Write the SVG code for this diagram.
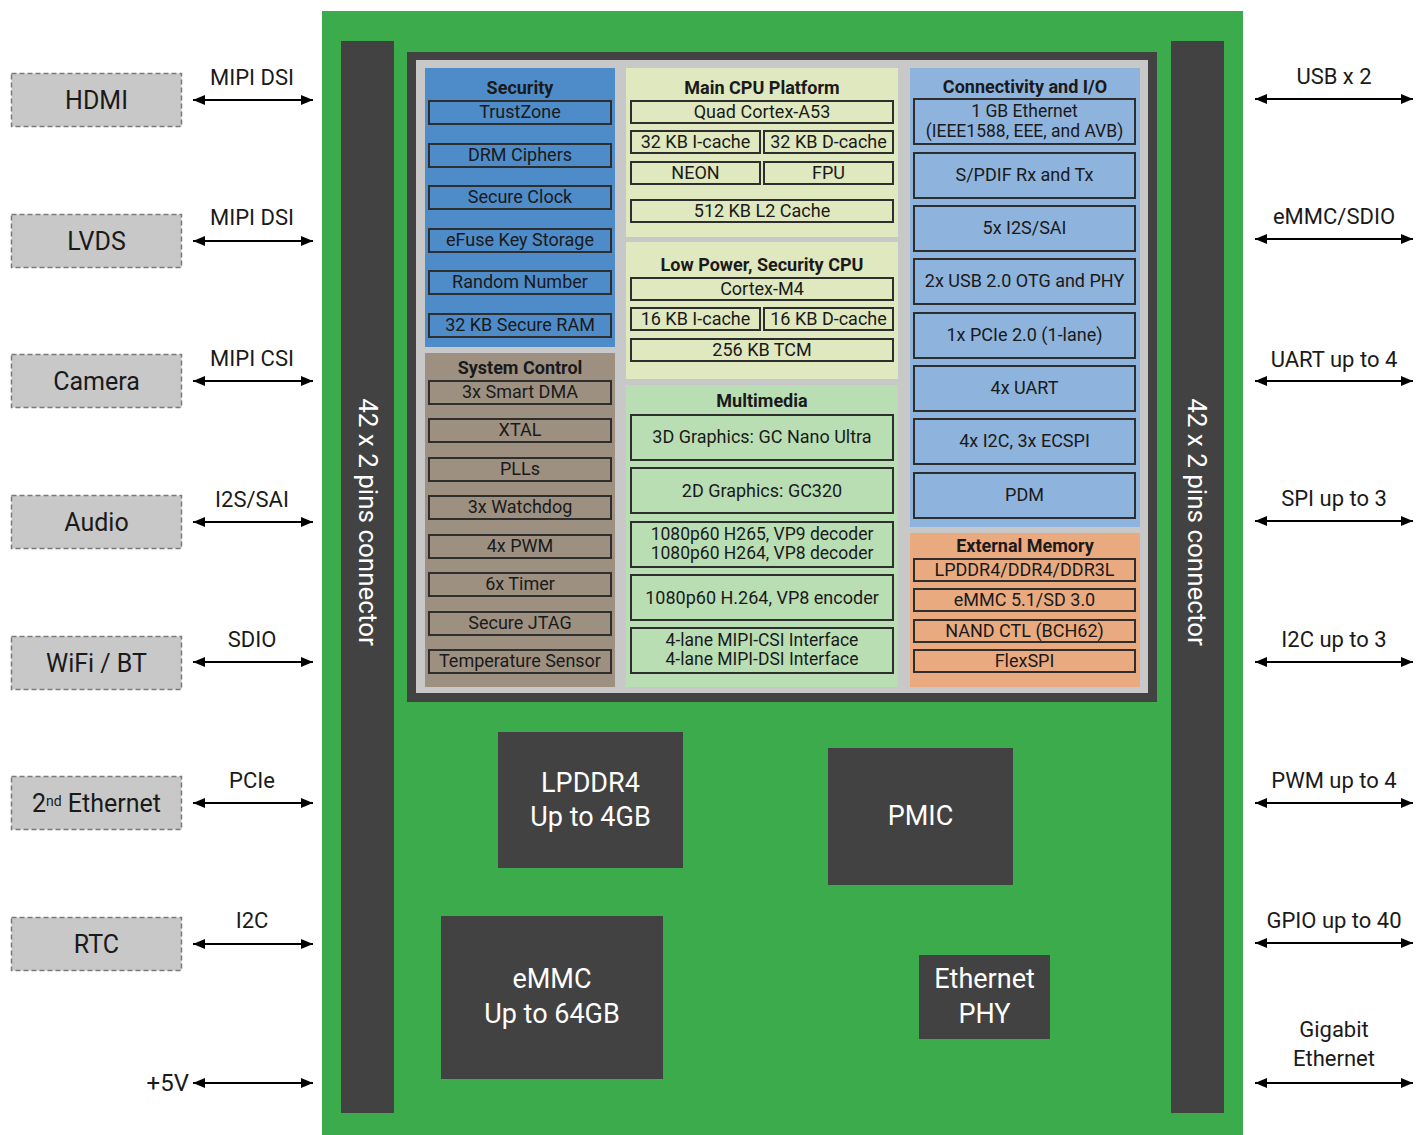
<svg xmlns="http://www.w3.org/2000/svg" width="1427" height="1135" viewBox="0 0 1427 1135">
<style>
text{font-family:Roboto,"Liberation Sans",sans-serif;fill:#1a1a1a}
.ext{fill:#c8c8c8;stroke:#7a7a7a;stroke-width:1.5;stroke-dasharray:5 3}
.extt{font-size:25px;text-anchor:middle}
.lbl{font-size:22px;text-anchor:middle}
.ttl{font-size:18px;font-weight:bold;text-anchor:middle}
.it{font-size:18px;text-anchor:middle}
.it2{font-size:17.5px;text-anchor:middle}
.box{stroke:#2e2e2e;stroke-width:2}
.sec{fill:#4e8bc9}
.sys{fill:#9d9081}
.cpu{fill:#dfe8be}
.mm{fill:#b9deb4}
.con{fill:#8eb3dc}
.mem{fill:#eaaa80}
.chip{fill:#424242}
.chipt{font-size:27px;text-anchor:middle;fill:#ffffff}
.vt{font-size:26px;text-anchor:middle;fill:#ffffff}
.arr{stroke:#000;stroke-width:2;fill:none;marker-start:url(#ah);marker-end:url(#ah)}
</style>
<defs>
<marker id="ah" viewBox="0 0 12 10" refX="12" refY="5" markerWidth="12" markerHeight="10" markerUnits="userSpaceOnUse" orient="auto-start-reverse">
<path d="M0,0 L12,5 L0,10 z" fill="#000"/>
</marker>
</defs>
<rect width="1427" height="1135" fill="#ffffff"/>

<g id="board">
<rect x="322" y="11" width="921" height="1124" fill="#3cab4b"/>
</g>
<g id="connector-left">
<rect x="341" y="41" width="53" height="1072" fill="#424242"/>
<text class="vt" transform="translate(368,522) rotate(90)" dominant-baseline="central">42 x 2 pins connector</text>
</g>
<g id="connector-right">
<rect x="1171" y="41" width="53" height="1072" fill="#424242"/>
<text class="vt" transform="translate(1197,522) rotate(90)" dominant-baseline="central">42 x 2 pins connector</text>
</g>

<g id="soc">
<rect x="407" y="52" width="750" height="650" fill="#424242"/>
<rect x="416" y="60" width="732" height="633" fill="#c8c8c8"/>
</g>

<g id="security">
<rect class="sec" x="425" y="68" width="190" height="279"/>
<text class="ttl" x="520" y="94">Security</text>
<rect class="box sec" x="429" y="101" width="182" height="23"/><text class="it" x="520" y="118">TrustZone</text>
<rect class="box sec" x="429" y="144" width="182" height="23"/><text class="it" x="520" y="161">DRM Ciphers</text>
<rect class="box sec" x="429" y="186" width="182" height="23"/><text class="it" x="520" y="203">Secure Clock</text>
<rect class="box sec" x="429" y="229" width="182" height="23"/><text class="it" x="520" y="246">eFuse Key Storage</text>
<rect class="box sec" x="429" y="271" width="182" height="23"/><text class="it" x="520" y="288">Random Number</text>
<rect class="box sec" x="429" y="314" width="182" height="23"/><text class="it" x="520" y="331">32 KB Secure RAM</text>
</g>

<g id="system-control">
<rect class="sys" x="425" y="353" width="190" height="334"/>
<text class="ttl" x="520" y="374">System Control</text>
<rect class="box sys" x="429" y="381" width="182" height="23"/><text class="it" x="520" y="398">3x Smart DMA</text>
<rect class="box sys" x="429" y="419" width="182" height="23"/><text class="it" x="520" y="436">XTAL</text>
<rect class="box sys" x="429" y="458" width="182" height="23"/><text class="it" x="520" y="475">PLLs</text>
<rect class="box sys" x="429" y="496" width="182" height="23"/><text class="it" x="520" y="513">3x Watchdog</text>
<rect class="box sys" x="429" y="535" width="182" height="23"/><text class="it" x="520" y="552">4x PWM</text>
<rect class="box sys" x="429" y="573" width="182" height="23"/><text class="it" x="520" y="590">6x Timer</text>
<rect class="box sys" x="429" y="612" width="182" height="23"/><text class="it" x="520" y="629">Secure JTAG</text>
<rect class="box sys" x="429" y="650" width="182" height="23"/><text class="it" x="520" y="667">Temperature Sensor</text>
</g>

<g id="main-cpu">
<rect class="cpu" x="626" y="68" width="272" height="169"/>
<text class="ttl" x="762" y="94">Main CPU Platform</text>
<rect class="box cpu" x="631" y="101" width="262" height="22"/><text class="it" x="762" y="118">Quad Cortex-A53</text>
<rect class="box cpu" x="631" y="131" width="129" height="22"/><text class="it" x="695.5" y="148">32 KB I-cache</text>
<rect class="box cpu" x="764" y="131" width="129" height="22"/><text class="it" x="828.5" y="148">32 KB D-cache</text>
<rect class="box cpu" x="631" y="162" width="129" height="22"/><text class="it" x="695.5" y="179">NEON</text>
<rect class="box cpu" x="764" y="162" width="129" height="22"/><text class="it" x="828.5" y="179">FPU</text>
<rect class="box cpu" x="631" y="200" width="262" height="22"/><text class="it" x="762" y="217">512 KB L2 Cache</text>
</g>

<g id="low-power-cpu">
<rect class="cpu" x="626" y="242" width="272" height="137"/>
<text class="ttl" x="762" y="271">Low Power, Security CPU</text>
<rect class="box cpu" x="631" y="278" width="262" height="22"/><text class="it" x="762" y="295">Cortex-M4</text>
<rect class="box cpu" x="631" y="308" width="129" height="22"/><text class="it" x="695.5" y="325">16 KB I-cache</text>
<rect class="box cpu" x="764" y="308" width="129" height="22"/><text class="it" x="828.5" y="325">16 KB D-cache</text>
<rect class="box cpu" x="631" y="339" width="262" height="22"/><text class="it" x="762" y="356">256 KB TCM</text>
</g>

<g id="multimedia">
<rect class="mm" x="626" y="385" width="272" height="302"/>
<text class="ttl" x="762" y="407">Multimedia</text>
<rect class="box mm" x="631" y="415" width="262" height="45"/><text class="it" x="762" y="443">3D Graphics: GC Nano Ultra</text>
<rect class="box mm" x="631" y="468" width="262" height="45"/><text class="it" x="762" y="497">2D Graphics: GC320</text>
<rect class="box mm" x="631" y="522" width="262" height="45"/><text class="it2" x="762" y="540">1080p60 H265, VP9 decoder</text><text class="it2" x="762" y="559">1080p60 H264, VP8 decoder</text>
<rect class="box mm" x="631" y="575" width="262" height="45"/><text class="it" x="762" y="604">1080p60 H.264, VP8 encoder</text>
<rect class="box mm" x="631" y="628" width="262" height="45"/><text class="it2" x="762" y="646">4-lane MIPI-CSI Interface</text><text class="it2" x="762" y="665">4-lane MIPI-DSI Interface</text>
</g>

<g id="connectivity">
<rect class="con" x="910" y="68" width="230" height="459"/>
<text class="ttl" x="1025" y="93">Connectivity and I/O</text>
<rect class="box con" x="914" y="99" width="221" height="45"/><text class="it2" x="1024.5" y="117">1 GB Ethernet</text><text class="it2" x="1024.5" y="137">(IEEE1588, EEE, and AVB)</text>
<rect class="box con" x="914" y="153" width="221" height="45"/><text class="it" x="1024.5" y="181">S/PDIF Rx and Tx</text>
<rect class="box con" x="914" y="206" width="221" height="45"/><text class="it" x="1024.5" y="234">5x I2S/SAI</text>
<rect class="box con" x="914" y="259" width="221" height="45"/><text class="it" x="1024.5" y="287">2x USB 2.0 OTG and PHY</text>
<rect class="box con" x="914" y="313" width="221" height="45"/><text class="it" x="1024.5" y="341">1x PCIe 2.0 (1-lane)</text>
<rect class="box con" x="914" y="366" width="221" height="45"/><text class="it" x="1024.5" y="394">4x UART</text>
<rect class="box con" x="914" y="419" width="221" height="45"/><text class="it" x="1024.5" y="447">4x I2C, 3x ECSPI</text>
<rect class="box con" x="914" y="473" width="221" height="45"/><text class="it" x="1024.5" y="501">PDM</text>
</g>

<g id="external-memory">
<rect class="mem" x="910" y="533" width="230" height="154"/>
<text class="ttl" x="1025" y="552">External Memory</text>
<rect class="box mem" x="914" y="559" width="221" height="22"/><text class="it" x="1024.5" y="576">LPDDR4/DDR4/DDR3L</text>
<rect class="box mem" x="914" y="589" width="221" height="22"/><text class="it" x="1024.5" y="606">eMMC 5.1/SD 3.0</text>
<rect class="box mem" x="914" y="620" width="221" height="22"/><text class="it" x="1024.5" y="637">NAND CTL (BCH62)</text>
<rect class="box mem" x="914" y="650" width="221" height="22"/><text class="it" x="1024.5" y="667">FlexSPI</text>
</g>

<g id="lpddr4">
<rect class="chip" x="498" y="732" width="185" height="136"/>
<text class="chipt" x="590.5" y="792">LPDDR4</text>
<text class="chipt" x="590.5" y="826">Up to 4GB</text>
</g>
<g id="pmic">
<rect class="chip" x="828" y="748" width="185" height="137"/>
<text class="chipt" x="920.5" y="825">PMIC</text>
</g>
<g id="emmc">
<rect class="chip" x="441" y="916" width="222" height="163"/>
<text class="chipt" x="552" y="988">eMMC</text>
<text class="chipt" x="552" y="1023">Up to 64GB</text>
</g>
<g id="ethernet-phy">
<rect class="chip" x="919" y="955" width="131" height="84"/>
<text class="chipt" x="984.5" y="988">Ethernet</text>
<text class="chipt" x="984.5" y="1023">PHY</text>
</g>

<g id="hdmi"><rect class="ext" x="11.5" y="73.5" width="170" height="53"/><text class="extt" x="96.5" y="109">HDMI</text></g>
<g id="lvds"><rect class="ext" x="11.5" y="214.5" width="170" height="53"/><text class="extt" x="96.5" y="250">LVDS</text></g>
<g id="camera"><rect class="ext" x="11.5" y="354.5" width="170" height="53"/><text class="extt" x="96.5" y="390">Camera</text></g>
<g id="audio"><rect class="ext" x="11.5" y="495.5" width="170" height="53"/><text class="extt" x="96.5" y="531">Audio</text></g>
<g id="wifi-bt"><rect class="ext" x="11.5" y="636.5" width="170" height="53"/><text class="extt" x="96.5" y="672">WiFi / BT</text></g>
<g id="ethernet2"><rect class="ext" x="11.5" y="776.5" width="170" height="53"/><text class="extt" x="96.5" y="812">2<tspan font-size="14" baseline-shift="40%">nd</tspan> Ethernet</text></g>
<g id="rtc"><rect class="ext" x="11.5" y="917.5" width="170" height="53"/><text class="extt" x="96.5" y="953">RTC</text></g>

<g id="connectors">
<line class="arr" x1="193" y1="100" x2="313" y2="100"/>
<line class="arr" x1="193" y1="241" x2="313" y2="241"/>
<line class="arr" x1="193" y1="381" x2="313" y2="381"/>
<line class="arr" x1="193" y1="522" x2="313" y2="522"/>
<line class="arr" x1="193" y1="662" x2="313" y2="662"/>
<line class="arr" x1="193" y1="803" x2="313" y2="803"/>
<line class="arr" x1="193" y1="944" x2="313" y2="944"/>
<line class="arr" x1="193" y1="1083" x2="313" y2="1083"/>
<line class="arr" x1="1255" y1="99" x2="1413" y2="99"/>
<line class="arr" x1="1255" y1="239" x2="1413" y2="239"/>
<line class="arr" x1="1255" y1="381" x2="1413" y2="381"/>
<line class="arr" x1="1255" y1="521" x2="1413" y2="521"/>
<line class="arr" x1="1255" y1="662" x2="1413" y2="662"/>
<line class="arr" x1="1255" y1="803" x2="1413" y2="803"/>
<line class="arr" x1="1255" y1="943" x2="1413" y2="943"/>
<line class="arr" x1="1255" y1="1083" x2="1413" y2="1083"/>
<text class="lbl" x="252" y="85">MIPI DSI</text>
<text class="lbl" x="252" y="225">MIPI DSI</text>
<text class="lbl" x="252" y="366">MIPI CSI</text>
<text class="lbl" x="252" y="507">I2S/SAI</text>
<text class="lbl" x="252" y="647">SDIO</text>
<text class="lbl" x="252" y="788">PCIe</text>
<text class="lbl" x="252" y="928">I2C</text>
<text class="lbl" x="189" y="1091" style="text-anchor:end;font-size:24px">+5V</text>
<text class="lbl" x="1334" y="84">USB x 2</text>
<text class="lbl" x="1334" y="224">eMMC/SDIO</text>
<text class="lbl" x="1334" y="367">UART up to 4</text>
<text class="lbl" x="1334" y="506">SPI up to 3</text>
<text class="lbl" x="1334" y="647">I2C up to 3</text>
<text class="lbl" x="1334" y="788">PWM up to 4</text>
<text class="lbl" x="1334" y="928">GPIO up to 40</text>
<text class="lbl" x="1334" y="1037">Gigabit</text>
<text class="lbl" x="1334" y="1066">Ethernet</text>
</g>
</svg>
